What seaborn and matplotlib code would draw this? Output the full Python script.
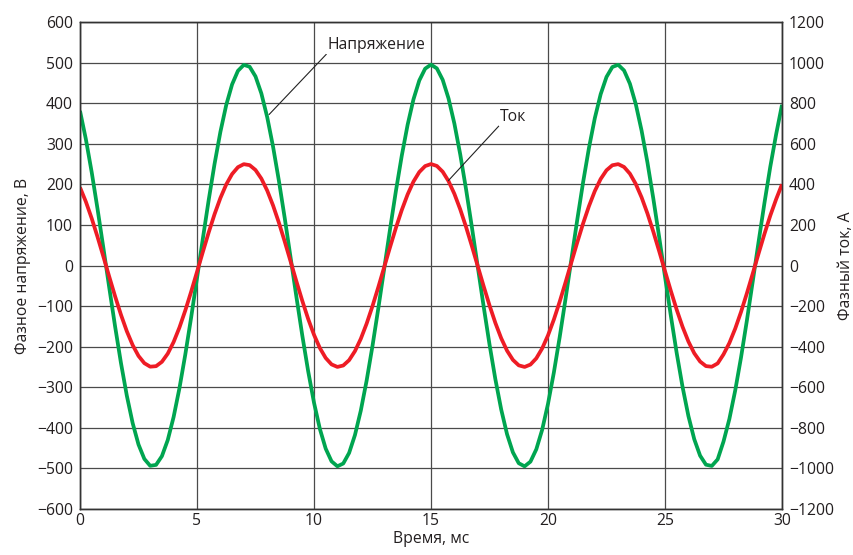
import numpy as np
import pandas as pd
import matplotlib
matplotlib.use("Agg")
import matplotlib.pyplot as plt
import seaborn as sns

# ---- data (time step 0.25 ms) ----
time_ms = [i * 0.25 for i in range(121)]

# relative waveform shape (fraction of peak)
shape = [
    0.7697, 0.6293, 0.4643, 0.2812, 0.0870, -0.1104, -0.3037, -0.4850, -0.6474, -0.7845,
    -0.8912, -0.9629, -0.9972, -0.9925, -0.9491, -0.8688, -0.7544, -0.6107, -0.4431, -0.2583,
    -0.0633, 0.1340, 0.3262, 0.5056, 0.6653, 0.7991, 0.9017, 0.9691, 0.9987, 0.9893,
    0.9413, 0.8566, 0.7386, 0.5917, 0.4217, 0.2353, 0.0396, -0.1575, -0.3486, -0.5259,
    -0.6829, -0.8131, -0.9117, -0.9747, -0.9996, -0.9856, -0.9331, -0.8441, -0.7224, -0.5724,
    -0.4000, -0.2122, -0.0159, 0.1809, 0.3707, 0.5460, 0.6999, 0.8267, 0.9212, 0.9797,
    1.0000, 0.9813, 0.9243, 0.8313, 0.7058, 0.5528, 0.3782, 0.1889, -0.0079, -0.2041,
    -0.3926, -0.5657, -0.7168, -0.8397, -0.9302, -0.9842, -0.9998, -0.9764, -0.9150, -0.8179,
    -0.6887, -0.5329, -0.3561, -0.1656, 0.0316, 0.2273, 0.4144, 0.5851, 0.7332, 0.8526,
    0.9386, 0.9881, 0.9991, 0.9710, 0.9051, 0.8039, 0.6713, 0.5126, 0.3338, 0.1421,
    -0.0553, -0.2504, -0.4359, -0.6042, -0.7490, -0.8647, -0.9465, -0.9915, -0.9977, -0.9651,
    -0.8763, -0.7645, -0.6225, -0.4570, -0.2734, -0.0790, 0.1184, 0.3113, 0.4920, 0.6535,
    0.8000,
]
voltage_V = [round(495 * s, 1) for s in shape]   # green, left axis
current_A = [round(500 * s, 1) for s in shape]   # red, right axis

x_ticks = [0, 5, 10, 15, 20, 25, 30]
v_ticks = list(range(-600, 601, 100))
i_ticks = list(range(-1200, 1201, 200))

x_label = "Время, мс"
v_label = "Фазное напряжение, В"
i_label = "Фазный ток, А"
v_name = "Напряжение"
i_name = "Ток"

df = pd.DataFrame({"t": time_ms, "u": voltage_V, "i": current_A})

sns.set_theme(style="white")
plt.rcParams["font.family"] = ["Open Sans", "DejaVu Sans"]
plt.rcParams["axes.unicode_minus"] = True

FS = 11.3

fig = plt.figure(figsize=(8.54, 5.55), dpi=100)
ax = fig.add_axes([80 / 854, 1 - 509 / 555, (782 - 80) / 854, (509 - 22) / 555])
ax2 = ax.twinx()

green = "#00A550"
red = "#EE1C25"
txt = "#231F20"

sns.lineplot(data=df, x="t", y="u", ax=ax, color=green, lw=2.7, legend=False,
             solid_joinstyle="round", solid_capstyle="butt")
sns.lineplot(data=df, x="t", y="i", ax=ax2, color=red, lw=2.7, legend=False,
             solid_joinstyle="round", solid_capstyle="butt")

ax.set_xlim(0, 30)
ax.set_ylim(-600, 600)
ax2.set_ylim(-1200, 1200)
ax.set_xticks(x_ticks)
ax.set_yticks(v_ticks)
ax2.set_yticks(i_ticks)

ax.grid(True, color="#4a4a4a", lw=0.9)
ax.set_axisbelow(True)
ax2.grid(False)

for a in (ax, ax2):
    for s in a.spines.values():
        s.set_visible(True)
        s.set_color("#333333")
        s.set_linewidth(1.0)
    a.tick_params(length=0, labelsize=FS, colors=txt)
ax.tick_params(axis="y", pad=5)
ax.tick_params(axis="x", pad=3)
ax2.tick_params(axis="y", pad=5)

ax.set_xlabel(x_label, fontsize=FS, color=txt, labelpad=1)
ax.set_ylabel(v_label, fontsize=FS, color=txt, labelpad=4)
ax2.set_ylabel(i_label, fontsize=FS, color=txt, labelpad=3)

ax.annotate(v_name, xy=(8.08, 372), xytext=(12.68, 544), textcoords="data",
            ha="center", va="center", fontsize=FS, color=txt,
            bbox=dict(boxstyle="square,pad=0.1", fc="white", ec="none"),
            arrowprops=dict(arrowstyle="-", lw=0.8, color="#222222",
                            relpos=(0, 0), shrinkA=0, shrinkB=0),
            zorder=5)
ax2.annotate(i_name, xy=(15.74, 2 * 209), xytext=(18.52, 2 * 367), textcoords="data",
             ha="center", va="center", fontsize=FS, color=txt,
             bbox=dict(boxstyle="square,pad=0.1", fc="white", ec="none"),
             arrowprops=dict(arrowstyle="-", lw=0.8, color="#222222",
                             relpos=(0, 0), shrinkA=0, shrinkB=0),
             zorder=5)

fig.savefig("out.png", dpi=100)
